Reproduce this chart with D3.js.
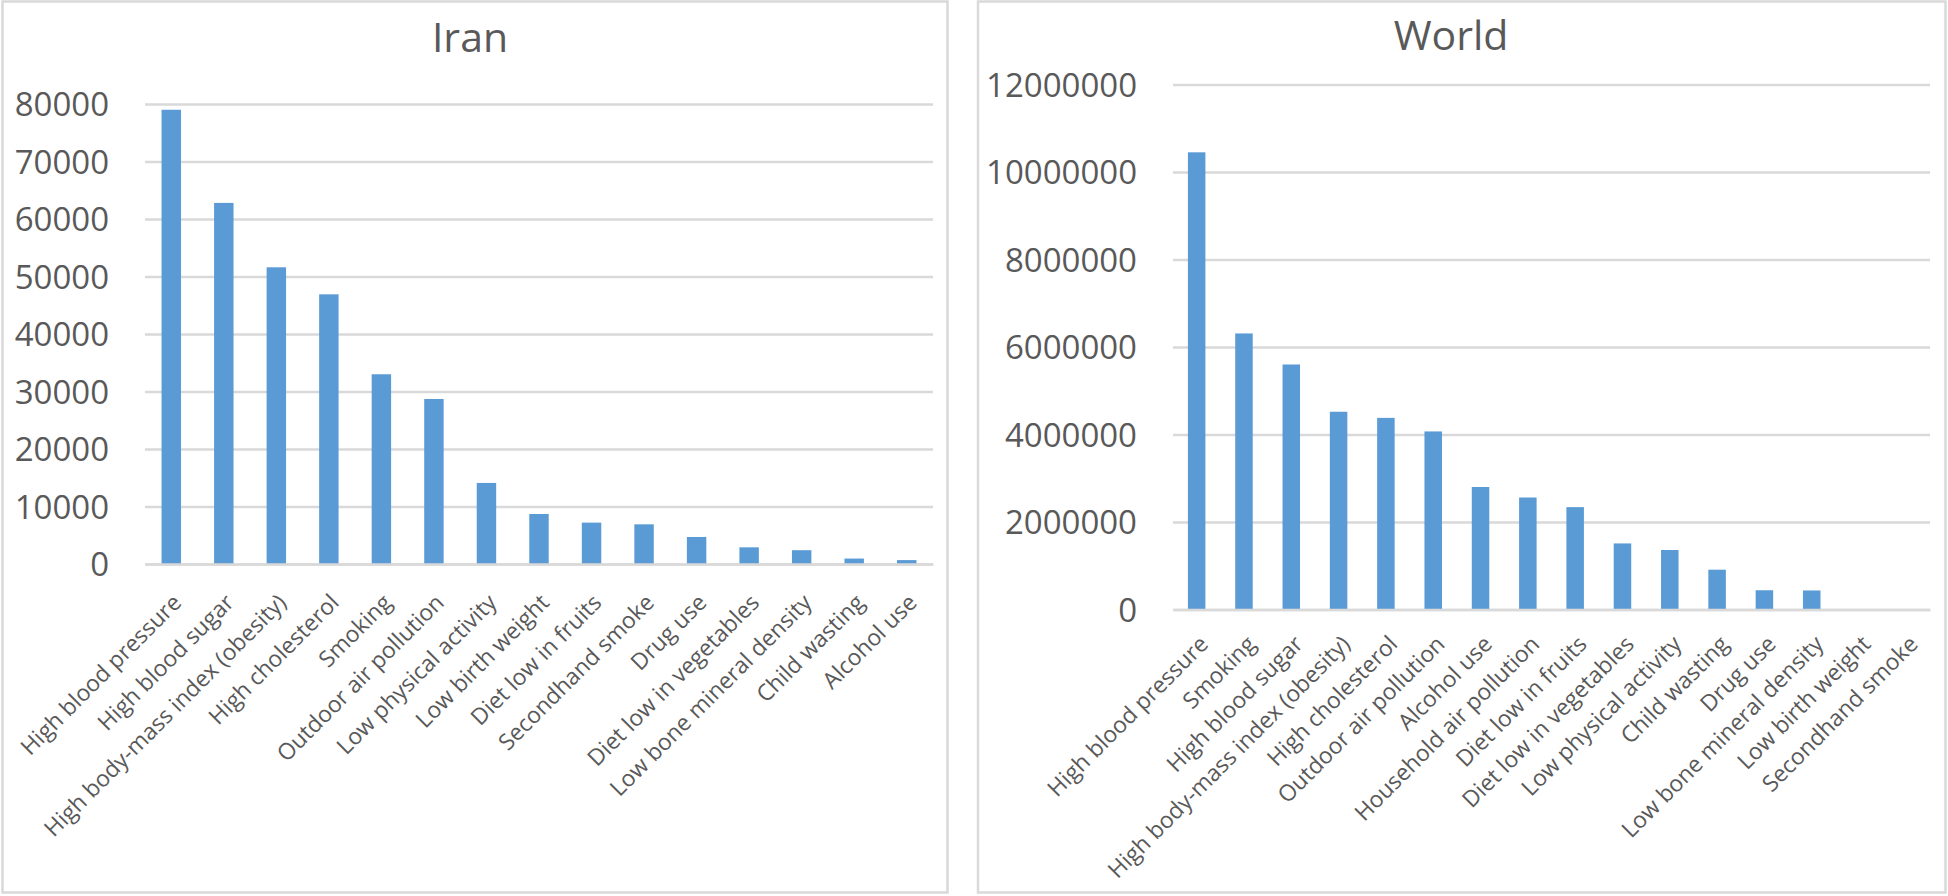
<!DOCTYPE html>
<html><head><meta charset="utf-8">
<script src="https://cdn.jsdelivr.net/npm/d3@7"></script>
<style>body{margin:0;background:#fff} svg{display:block}</style>
</head><body>
<script>
// ---- data ----
const iranCategories = ["High blood pressure","High blood sugar","High body-mass index (obesity)","High cholesterol","Smoking","Outdoor air pollution","Low physical activity","Low birth weight","Diet low in fruits","Secondhand smoke","Drug use","Diet low in vegetables","Low bone mineral density","Child wasting","Alcohol use"];
const iranValues = [79000, 62800, 51600, 46900, 33000, 28700, 14100, 8700, 7200, 6900, 4700, 2900, 2400, 950, 680];
const iranTicks = [0,10000,20000,30000,40000,50000,60000,70000,80000];

const worldCategories = ["High blood pressure","Smoking","High blood sugar","High body-mass index (obesity)","High cholesterol","Outdoor air pollution","Alcohol use","Household air pollution","Diet low in fruits","Diet low in vegetables","Low physical activity","Child wasting","Drug use","Low bone mineral density","Low birth weight","Secondhand smoke"];
const worldValues = [10450000, 6310000, 5600000, 4520000, 4380000, 4070000, 2800000, 2560000, 2340000, 1510000, 1360000, 910000, 440000, 435000, 0, 0];
const worldTicks = [0,2000000,4000000,6000000,8000000,10000000,12000000];

// ---- drawing ----
const W = 1948, H = 896;
const FONT = "'Open Sans', sans-serif";
const TXT = "#595959", GRID = "#d9d9d9", BAR = "#5b9bd5";
const svg = d3.select("body").append("svg").attr("width", W).attr("height", H);

function panel(cfg) {
  const g = svg.append("g");
  g.append("rect")
    .attr("x", cfg.box[0]).attr("y", cfg.box[1])
    .attr("width", cfg.box[2] - cfg.box[0]).attr("height", cfg.box[3] - cfg.box[1])
    .attr("fill", "#fff").attr("stroke", GRID).attr("stroke-width", 2.5);
  g.append("text").attr("x", cfg.titleX).attr("y", cfg.titleY)
    .attr("text-anchor", "middle").attr("font-family", FONT)
    .attr("font-size", 41).attr("fill", TXT).text(cfg.title);

  const x = d3.scaleBand().domain(cfg.categories).range([cfg.left, cfg.right])
    .paddingInner(0.63).paddingOuter(0.315);
  const y = d3.scaleLinear().domain([0, d3.max(cfg.ticks)]).range([cfg.bottom, cfg.top]);

  const ya = g.append("g").attr("transform", `translate(${cfg.left},0)`)
    .call(d3.axisLeft(y).tickValues(cfg.ticks).tickFormat(d3.format("d"))
      .tickSizeInner(-(cfg.right - cfg.left)).tickSizeOuter(0).tickPadding(36));
  ya.select(".domain").remove();
  ya.selectAll(".tick line").attr("stroke", GRID).attr("stroke-width", 2.5);
  ya.selectAll(".tick text").attr("font-family", FONT).attr("font-size", 33)
    .attr("fill", TXT).attr("dy", "0.36em");

  g.append("g").selectAll("rect").data(cfg.values).join("rect")
    .attr("x", (d, i) => x(cfg.categories[i]))
    .attr("width", x.bandwidth())
    .attr("y", d => y(d))
    .attr("height", d => y(0) - y(d))
    .attr("fill", BAR);

  const xa = g.append("g").attr("transform", `translate(0,${cfg.bottom})`)
    .call(d3.axisBottom(x).tickSize(0).tickSizeOuter(0).tickPadding(0));
  xa.select(".domain").attr("stroke", GRID).attr("stroke-width", 2.5);
  xa.selectAll(".tick text")
    .attr("font-family", FONT).attr("font-size", 22.8).attr("fill", TXT)
    .attr("text-anchor", "end").attr("dy", 0).attr("y", 0)
    .attr("transform", `translate(${cfg.lab[0]},${cfg.lab[1]}) rotate(-45)`);
}

panel({
  box: [2.5, 1.5, 947.5, 892.5], title: "Iran", titleX: 470, titleY: 52,
  categories: iranCategories, values: iranValues, ticks: iranTicks,
  left: 145, right: 933, top: 104, bottom: 564, lab: [11.5, 40]
});
panel({
  box: [978, 1.5, 1945.5, 892.5], title: "World", titleX: 1451, titleY: 50,
  categories: worldCategories, values: worldValues, ticks: worldTicks,
  left: 1173, right: 1930, top: 84.5, bottom: 609.5, lab: [13, 36]
});
</script>
</body></html>
